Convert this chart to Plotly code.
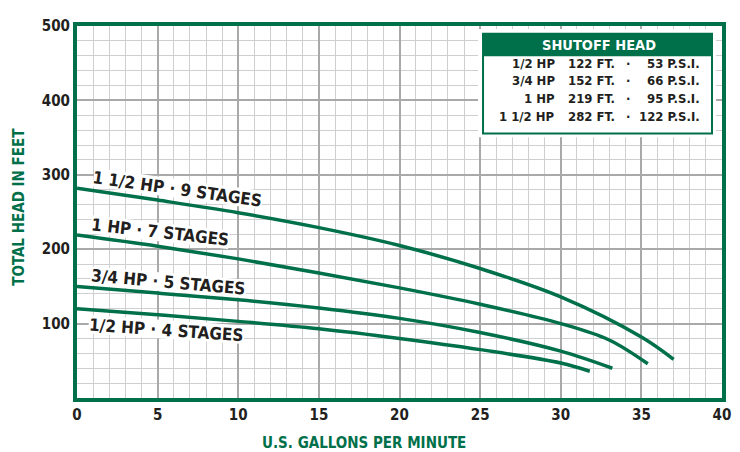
import math
import plotly.graph_objects as go

# pump curves (gpm vs head in feet)
gpm_15 = [0, 5, 10, 15, 20, 25, 30, 35, 37.0]
head_15 = [282, 266, 249, 229, 205, 174, 136, 82, 52]
gpm_10 = [0, 5, 10, 15, 20, 25, 30, 33, 35.4]
head_10 = [219, 204, 187, 168, 148, 126, 100, 78, 46]
gpm_075 = [0, 5, 10, 15, 20, 25, 30, 33.2]
head_075 = [150, 141, 132, 121, 107, 88, 63, 40]
gpm_05 = [0, 5, 10, 15, 20, 25, 30, 31.8]
head_05 = [120, 112, 103, 93, 80, 65, 47, 36]

curve_labels = ["1 1/2 HP · 9 STAGES", "1 HP · 7 STAGES",
                "3/4 HP · 5 STAGES", "1/2 HP · 4 STAGES"]
label_x = [6.26, 5.15, 5.67, 5.55]
label_y = [281.5, 223, 155.5, 92]
label_angle = [8, 6.5, 5, 4]
label_len = [166, 135, 152, 152]   # rough text length in px, for the white backdrop

# shutoff head table
tbl_hp = ["1/2 HP", "3/4 HP", "1 HP", "1 1/2 HP"]
tbl_ft = ["122 FT.", "152 FT.", "219 FT.", "282 FT."]
tbl_psi = ["53 P.S.I.", "66 P.S.I.", "95 P.S.I.", "122 P.S.I."]

GREEN = "#00704a"
DARK = "#231f20"
FONT = "DejaVu Sans Condensed, Roboto Condensed, Liberation Sans Narrow, Roboto, sans-serif"

# plot area is 645 x 381 px for 40 x 500 units
PX_X = 645 / 40
PX_Y = 381 / 500

fig = go.Figure()

for xs, ys in [(gpm_15, head_15), (gpm_10, head_10),
               (gpm_075, head_075), (gpm_05, head_05)]:
    fig.add_trace(go.Scatter(
        x=xs, y=ys, mode='lines', line_shape='spline',
        line=dict(color=GREEN, width=3.5),
        hoverinfo='skip'
    ))


def backdrop(cx, cy, w, h, ang):
    # white rotated box between the grid and the curves
    t = math.radians(ang)
    ux, uy = math.cos(t), -math.sin(t)
    vx, vy = math.sin(t), math.cos(t)
    pts = []
    for a, b in [(-1, -1), (1, -1), (1, 1), (-1, 1)]:
        px = a * w / 2 * ux + b * h / 2 * vx
        py = a * w / 2 * uy + b * h / 2 * vy
        pts.append((cx + px / PX_X, cy + py / PX_Y))
    path = "M " + " L ".join(f"{x},{y}" for x, y in pts) + " Z"
    fig.add_shape(type='path', path=path, fillcolor='white',
                  line=dict(width=0), layer='between')


for txt, lx, ly, ang, ln in zip(curve_labels, label_x, label_y, label_angle, label_len):
    backdrop(lx, ly, ln + 4, 19, ang)
    fig.add_annotation(
        x=lx, y=ly, text=txt, showarrow=False, textangle=ang,
        font=dict(family=FONT, size=17, color=DARK, weight='bold')
    )

# table box
fig.add_shape(type='rect', x0=24.87, x1=39.63, y0=350.4, y1=496,
              fillcolor='white', line=dict(width=0), layer='above')
fig.add_shape(type='rect', x0=25.18, x1=39.38, y0=355.6, y1=489.5,
              fillcolor='white', line=dict(color=GREEN, width=2), layer='above')
fig.add_shape(type='rect', x0=25.18, x1=39.38, y0=459.5, y1=489.5,
              fillcolor=GREEN, line=dict(width=0), layer='above')
fig.add_annotation(x=32.35, y=474, text="SHUTOFF HEAD", showarrow=False,
                   font=dict(family=FONT, size=14.5, color='white', weight='bold'))

row_y = [450, 426.5, 402, 378]
tfont = dict(family=FONT, size=13, color=DARK, weight='bold')
for hp, ft, psi, ry in zip(tbl_hp, tbl_ft, tbl_psi, row_y):
    fig.add_annotation(x=29.77, y=ry, text=hp, showarrow=False,
                       xanchor='right', font=tfont)
    fig.add_annotation(x=33.49, y=ry, text=ft, showarrow=False,
                       xanchor='right', font=tfont)
    fig.add_annotation(x=34.15, y=ry, text="·", showarrow=False, font=tfont)
    fig.add_annotation(x=38.76, y=ry, text=psi, showarrow=False,
                       xanchor='right', font=tfont)

# axis titles
fig.add_annotation(x=0, xref='paper', xshift=-69, y=257, yref='y',
                   text="TOTAL HEAD IN FEET", textangle=-90, showarrow=False,
                   font=dict(family=FONT, size=15, color=GREEN, weight='bold'))
fig.add_annotation(x=17.8, y=0, yref='y', yshift=-45, text="U.S. GALLONS PER MINUTE",
                   showarrow=False,
                   font=dict(family=FONT, size=15, color=GREEN, weight='bold'))

# page body has an 8px margin, so the figure is shrunk to sit where the reference does
fig.update_layout(
    width=732, height=444,
    margin=dict(l=69, r=18, t=9, b=54),
    plot_bgcolor='white', paper_bgcolor='white',
    showlegend=False,
    xaxis=dict(range=[0, 40], dtick=5, showgrid=True, gridcolor='#a9a9a9', gridwidth=1.5,
               minor=dict(dtick=1, showgrid=True, gridcolor='#cfcfcf', gridwidth=1),
               zeroline=False, showline=True, mirror=True, linecolor=GREEN, linewidth=4,
               ticks='', tickfont=dict(family=FONT, size=15, color=DARK, weight='bold')),
    yaxis=dict(range=[0, 500], tickvals=[100, 200, 300, 400, 500], showgrid=True,
               gridcolor='#a9a9a9', gridwidth=1.5,
               minor=dict(dtick=20, showgrid=True, gridcolor='#cfcfcf', gridwidth=1),
               zeroline=False, showline=True, mirror=True, linecolor=GREEN, linewidth=4,
               ticks='', ticklabelstandoff=0,
               tickfont=dict(family=FONT, size=15, color=DARK, weight='bold')),
)

fig.write_html("out.html")
